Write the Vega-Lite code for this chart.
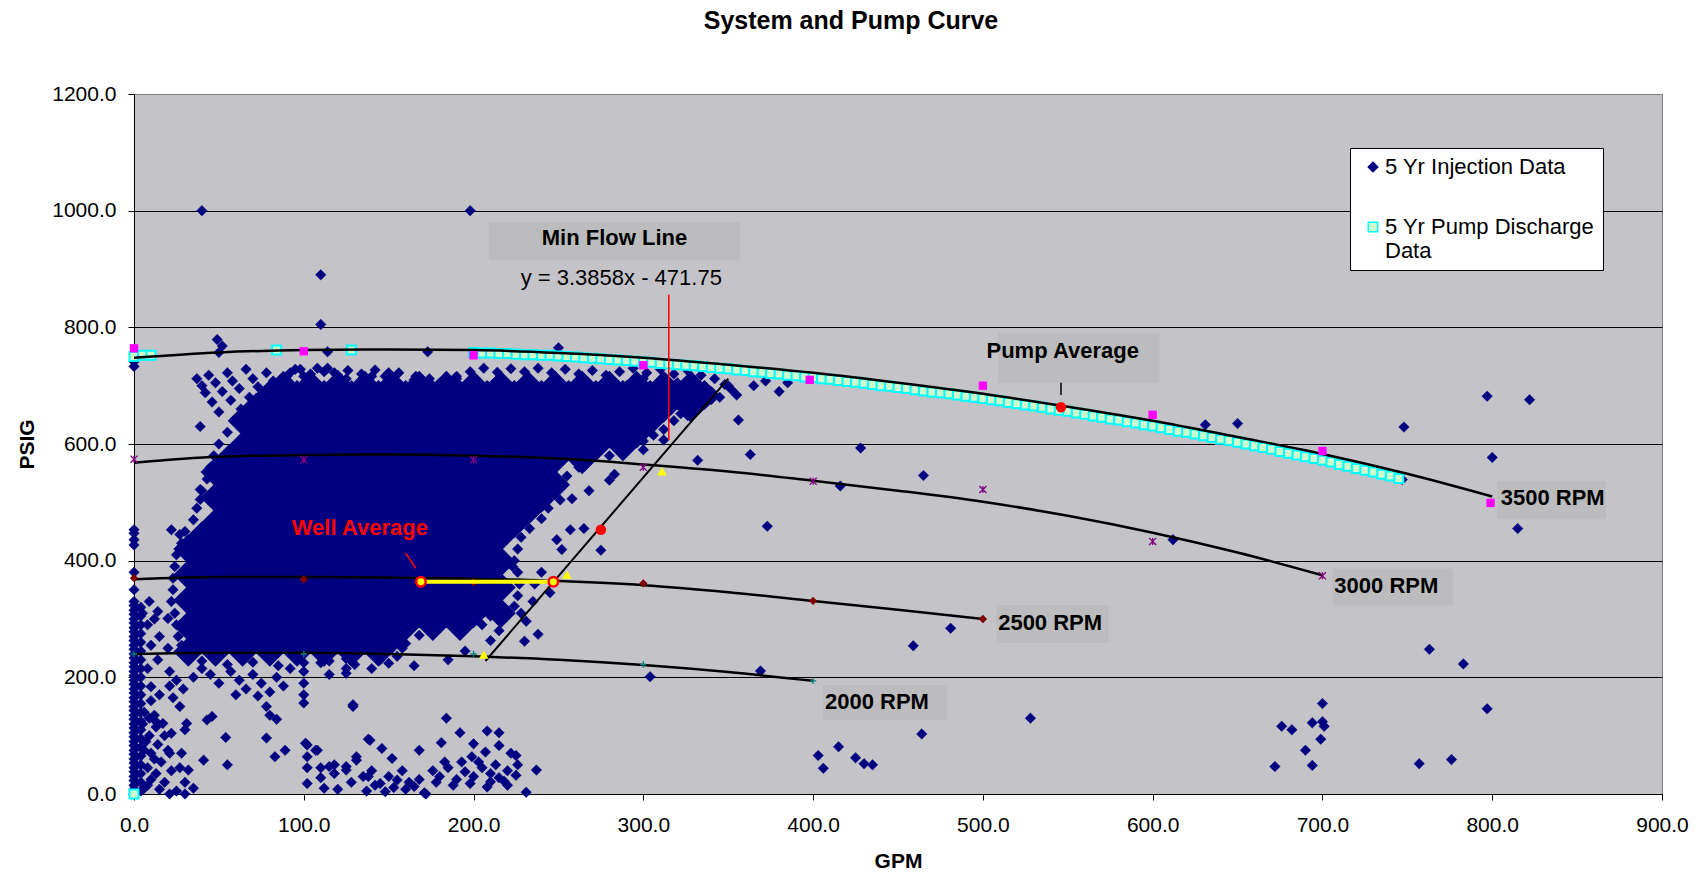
{
"$schema": "https://vega.github.io/schema/vega-lite/v6.json",
"width": 1528, "height": 700,
"autosize": {"type": "none"},
"padding": {"left": 134, "top": 94, "right": 44, "bottom": 78},
"background": "white",
"title": {"text": "System and Pump Curve", "font": "Liberation Sans", "fontSize": 25, "fontWeight": "bold", "color": "black", "anchor": "middle", "frame": "group", "dx": -47, "offset": 49},
"config": {
  "view": {"fill": "#C4C3C8", "stroke": "#808080", "strokeWidth": 1},
  "axis": {"labelFont": "Liberation Sans", "labelFontSize": 21, "labelColor": "black", "tickColor": "black", "tickSize": 6, "domainColor": "black", "titleFont": "Liberation Sans", "titleFontSize": 21, "titleFontWeight": "bold", "titleColor": "black"}
},
"encoding": {
  "x": {"field": "x", "type": "quantitative", "scale": {"domain": [0, 900], "nice": false, "zero": false},
        "axis": {"title": "GPM", "values": [0,100,200,300,400,500,600,700,800,900], "format": ".1f", "grid": false, "labelPadding": 14, "labelFlush": false, "labelOverlap": false, "titlePadding": 15}},
  "y": {"field": "y", "type": "quantitative", "scale": {"domain": [0, 1200], "nice": false, "zero": false},
        "axis": {"title": "PSIG", "values": [0,200,400,600,800,1000,1200], "format": ".1f", "grid": true, "gridColor": {"condition": {"test": "datum.value == 1200", "value": "#808080"}, "value": "black"}, "gridWidth": 1, "labelPadding": 12, "labelOverlap": false, "labelFlush": false, "titlePadding": 14}}
},
"datasets": {
"blob": [
{"x":32,"y":244},{"x":48,"y":244},{"x":64,"y":244},{"x":80,"y":244},{"x":96,"y":244},{"x":112,"y":244},{"x":128,"y":244},{"x":144,"y":244},
{"x":40,"y":266},{"x":56,"y":266},{"x":72,"y":266},{"x":88,"y":266},{"x":104,"y":266},{"x":120,"y":266},{"x":136,"y":266},{"x":152,"y":266},
{"x":32,"y":288},{"x":48,"y":288},{"x":64,"y":288},{"x":80,"y":288},{"x":96,"y":288},{"x":112,"y":288},{"x":128,"y":288},{"x":144,"y":288},{"x":160,"y":288},{"x":176,"y":288},{"x":192,"y":288},
{"x":40,"y":310},{"x":56,"y":310},{"x":72,"y":310},{"x":88,"y":310},{"x":104,"y":310},{"x":120,"y":310},{"x":136,"y":310},{"x":152,"y":310},{"x":168,"y":310},{"x":184,"y":310},{"x":200,"y":310},{"x":216,"y":310},
{"x":32,"y":332},{"x":48,"y":332},{"x":64,"y":332},{"x":80,"y":332},{"x":96,"y":332},{"x":112,"y":332},{"x":128,"y":332},{"x":144,"y":332},{"x":160,"y":332},{"x":176,"y":332},{"x":192,"y":332},{"x":208,"y":332},
{"x":40,"y":354},{"x":56,"y":354},{"x":72,"y":354},{"x":88,"y":354},{"x":104,"y":354},{"x":120,"y":354},{"x":136,"y":354},{"x":152,"y":354},{"x":168,"y":354},{"x":184,"y":354},{"x":200,"y":354},{"x":216,"y":354},
{"x":32,"y":376},{"x":48,"y":376},{"x":64,"y":376},{"x":80,"y":376},{"x":96,"y":376},{"x":112,"y":376},{"x":128,"y":376},{"x":144,"y":376},{"x":160,"y":376},{"x":176,"y":376},{"x":192,"y":376},{"x":208,"y":376},
{"x":40,"y":398},{"x":56,"y":398},{"x":72,"y":398},{"x":88,"y":398},{"x":104,"y":398},{"x":120,"y":398},{"x":136,"y":398},{"x":152,"y":398},{"x":168,"y":398},{"x":184,"y":398},{"x":200,"y":398},{"x":216,"y":398},
{"x":32,"y":420},{"x":48,"y":420},{"x":64,"y":420},{"x":80,"y":420},{"x":96,"y":420},{"x":112,"y":420},{"x":128,"y":420},{"x":144,"y":420},{"x":160,"y":420},{"x":176,"y":420},{"x":192,"y":420},{"x":208,"y":420},
{"x":40,"y":442},{"x":56,"y":442},{"x":72,"y":442},{"x":88,"y":442},{"x":104,"y":442},{"x":120,"y":442},{"x":136,"y":442},{"x":152,"y":442},{"x":168,"y":442},{"x":184,"y":442},{"x":200,"y":442},{"x":216,"y":442},
{"x":48,"y":464},{"x":64,"y":464},{"x":80,"y":464},{"x":96,"y":464},{"x":112,"y":464},{"x":128,"y":464},{"x":144,"y":464},{"x":160,"y":464},{"x":176,"y":464},{"x":192,"y":464},{"x":208,"y":464},{"x":224,"y":464},
{"x":56,"y":486},{"x":72,"y":486},{"x":88,"y":486},{"x":104,"y":486},{"x":120,"y":486},{"x":136,"y":486},{"x":152,"y":486},{"x":168,"y":486},{"x":184,"y":486},{"x":200,"y":486},{"x":216,"y":486},{"x":232,"y":486},
{"x":48,"y":508},{"x":64,"y":508},{"x":80,"y":508},{"x":96,"y":508},{"x":112,"y":508},{"x":128,"y":508},{"x":144,"y":508},{"x":160,"y":508},{"x":176,"y":508},{"x":192,"y":508},{"x":208,"y":508},{"x":224,"y":508},{"x":240,"y":508},
{"x":56,"y":530},{"x":72,"y":530},{"x":88,"y":530},{"x":104,"y":530},{"x":120,"y":530},{"x":136,"y":530},{"x":152,"y":530},{"x":168,"y":530},{"x":184,"y":530},{"x":200,"y":530},{"x":216,"y":530},{"x":232,"y":530},{"x":248,"y":530},
{"x":48,"y":552},{"x":64,"y":552},{"x":80,"y":552},{"x":96,"y":552},{"x":112,"y":552},{"x":128,"y":552},{"x":144,"y":552},{"x":160,"y":552},{"x":176,"y":552},{"x":192,"y":552},{"x":208,"y":552},{"x":224,"y":552},{"x":240,"y":552},
{"x":56,"y":574},{"x":72,"y":574},{"x":88,"y":574},{"x":104,"y":574},{"x":120,"y":574},{"x":136,"y":574},{"x":152,"y":574},{"x":168,"y":574},{"x":184,"y":574},{"x":200,"y":574},{"x":216,"y":574},{"x":232,"y":574},{"x":248,"y":574},{"x":264,"y":574},
{"x":64,"y":596},{"x":80,"y":596},{"x":96,"y":596},{"x":112,"y":596},{"x":128,"y":596},{"x":144,"y":596},{"x":160,"y":596},{"x":176,"y":596},{"x":192,"y":596},{"x":208,"y":596},{"x":224,"y":596},{"x":240,"y":596},{"x":256,"y":596},{"x":272,"y":596},{"x":288,"y":596},
{"x":72,"y":618},{"x":88,"y":618},{"x":104,"y":618},{"x":120,"y":618},{"x":136,"y":618},{"x":152,"y":618},{"x":168,"y":618},{"x":184,"y":618},{"x":200,"y":618},{"x":216,"y":618},{"x":232,"y":618},{"x":248,"y":618},{"x":264,"y":618},{"x":280,"y":618},{"x":296,"y":618},
{"x":64,"y":640},{"x":80,"y":640},{"x":96,"y":640},{"x":112,"y":640},{"x":128,"y":640},{"x":144,"y":640},{"x":160,"y":640},{"x":176,"y":640},{"x":192,"y":640},{"x":208,"y":640},{"x":224,"y":640},{"x":240,"y":640},{"x":256,"y":640},{"x":272,"y":640},{"x":288,"y":640},{"x":304,"y":640},
{"x":72,"y":662},{"x":88,"y":662},{"x":104,"y":662},{"x":120,"y":662},{"x":136,"y":662},{"x":152,"y":662},{"x":168,"y":662},{"x":184,"y":662},{"x":200,"y":662},{"x":216,"y":662},{"x":232,"y":662},{"x":248,"y":662},{"x":264,"y":662},{"x":280,"y":662},{"x":296,"y":662},{"x":312,"y":662},{"x":328,"y":662},
{"x":80,"y":684},{"x":96,"y":684},{"x":112,"y":684},{"x":128,"y":684},{"x":144,"y":684},{"x":160,"y":684},{"x":176,"y":684},{"x":192,"y":684},{"x":208,"y":684},{"x":224,"y":684},{"x":240,"y":684},{"x":256,"y":684},{"x":272,"y":684},{"x":288,"y":684},{"x":304,"y":684},{"x":320,"y":684},{"x":336,"y":684},
{"x":88,"y":700},{"x":104,"y":700},{"x":120,"y":700},{"x":136,"y":700},{"x":152,"y":700},{"x":168,"y":700},{"x":184,"y":700},{"x":200,"y":700},{"x":216,"y":700},{"x":232,"y":700},{"x":248,"y":700},{"x":264,"y":700},{"x":280,"y":700},{"x":296,"y":700},{"x":312,"y":700},{"x":328,"y":700}
],
"injection": [
{"x":40,"y":1000},{"x":198,"y":1000},{"x":110,"y":890},{"x":110,"y":805},{"x":49,"y":779},{"x":52,"y":768},{"x":50,"y":757},{"x":114,"y":758},{"x":173,"y":758},{"x":250,"y":765},{"x":0,"y":741},{"x":0,"y":733},{"x":114,"y":730},
{"x":37,"y":712},{"x":40,"y":700},{"x":44,"y":718},{"x":48,"y":705},{"x":52,"y":690},{"x":55,"y":722},{"x":58,"y":708},{"x":62,"y":695},{"x":66,"y":728},{"x":70,"y":712},{"x":73,"y":698},{"x":78,"y":722},{"x":82,"y":708},{"x":86,"y":692},{"x":90,"y":716},{"x":42,"y":688},{"x":46,"y":672},{"x":57,"y":675},{"x":63,"y":660},{"x":68,"y":680},{"x":75,"y":670},{"x":50,"y":655},{"x":60,"y":642},{"x":72,"y":650},{"x":39,"y":630},{"x":95,"y":728},{"x":100,"y":716},{"x":108,"y":730},{"x":118,"y":722},{"x":125,"y":712},{"x":140,"y":716},{"x":150,"y":722},{"x":165,"y":710},{"x":180,"y":704},{"x":190,"y":712},
{"x":92,"y":722},{"x":98,"y":728},{"x":104,"y":720},{"x":112,"y":724},{"x":120,"y":718},{"x":126,"y":726},{"x":134,"y":720},{"x":142,"y":727},{"x":148,"y":716},{"x":156,"y":722},{"x":166,"y":716},{"x":174,"y":712},{"x":182,"y":708},{"x":190,"y":716},{"x":198,"y":724},{"x":206,"y":730},{"x":214,"y":723},{"x":222,"y":729},{"x":230,"y":724},{"x":238,"y":730},{"x":246,"y":722},{"x":254,"y":728},{"x":262,"y":720},{"x":270,"y":726},{"x":278,"y":718},{"x":286,"y":724},{"x":294,"y":730},{"x":302,"y":722},{"x":310,"y":728},{"x":318,"y":720},{"x":326,"y":726},{"x":334,"y":718},{"x":342,"y":712},{"x":348,"y":702},{"x":352,"y":693},{"x":355,"y":684},
{"x":280,"y":580},{"x":272,"y":586},{"x":300,"y":605},{"x":306,"y":615},{"x":312,"y":625},{"x":318,"y":640},{"x":322,"y":652},{"x":332,"y":665},{"x":340,"y":676},{"x":262,"y":560},{"x":255,"y":545},{"x":252,"y":530},{"x":246,"y":515},{"x":244,"y":490},{"x":240,"y":472},{"x":233,"y":455},{"x":228,"y":440},{"x":226,"y":420},{"x":224,"y":400},{"x":226,"y":380},{"x":227,"y":360},{"x":226,"y":340},{"x":224,"y":322},{"x":210,"y":305},{"x":200,"y":296},{"x":175,"y":283},{"x":168,"y":272},{"x":160,"y":258},{"x":158,"y":250},
{"x":60,"y":640},{"x":55,"y":620},{"x":50,"y":600},{"x":47,"y":580},{"x":45,"y":560},{"x":43,"y":540},{"x":40,"y":520},{"x":37,"y":490},{"x":35,"y":470},{"x":30,"y":450},{"x":28,"y":430},{"x":25,"y":410},{"x":24,"y":390},{"x":23,"y":370},{"x":23,"y":350},{"x":22,"y":330},{"x":24,"y":310},{"x":25,"y":290},{"x":26,"y":270},{"x":28,"y":255},
{"x":40,"y":228},{"x":55,"y":222},{"x":70,"y":226},{"x":85,"y":220},{"x":100,"y":225},{"x":115,"y":228},{"x":130,"y":222},{"x":145,"y":230},{"x":155,"y":236},
{"x":0,"y":0},{"x":0,"y":8},{"x":0,"y":15},{"x":0,"y":23},{"x":0,"y":30},{"x":0,"y":38},{"x":0,"y":45},{"x":0,"y":53},{"x":0,"y":60},{"x":0,"y":68},{"x":0,"y":75},{"x":0,"y":83},{"x":0,"y":90},{"x":0,"y":98},{"x":0,"y":105},{"x":0,"y":113},{"x":0,"y":120},{"x":0,"y":128},{"x":0,"y":135},{"x":0,"y":143},{"x":0,"y":150},{"x":0,"y":158},{"x":0,"y":165},{"x":0,"y":173},{"x":0,"y":180},{"x":0,"y":188},{"x":0,"y":195},{"x":0,"y":203},{"x":0,"y":210},{"x":0,"y":218},{"x":0,"y":225},{"x":0,"y":233},{"x":0,"y":240},{"x":0,"y":248},{"x":0,"y":255},{"x":0,"y":263},{"x":0,"y":270},{"x":0,"y":278},{"x":0,"y":285},{"x":0,"y":293},{"x":0,"y":300},{"x":0,"y":308},{"x":0,"y":315},{"x":0,"y":323},{"x":0,"y":330},{"x":0,"y":350},{"x":0,"y":380},{"x":0,"y":427},{"x":0,"y":447},{"x":0,"y":453},{"x":0,"y":436},
{"x":4,"y":5},{"x":4,"y":20},{"x":4,"y":35},{"x":4,"y":50},{"x":4,"y":65},{"x":4,"y":80},{"x":4,"y":95},{"x":4,"y":110},{"x":4,"y":125},{"x":4,"y":140},{"x":4,"y":155},{"x":4,"y":170},{"x":4,"y":185},{"x":4,"y":200},{"x":4,"y":215},{"x":4,"y":230},{"x":4,"y":245},{"x":4,"y":260},{"x":4,"y":275},{"x":4,"y":290},{"x":4,"y":305},{"x":4,"y":320},
{"x":6,"y":10},{"x":10,"y":25},{"x":15,"y":8},{"x":8,"y":45},{"x":12,"y":60},{"x":6,"y":75},{"x":14,"y":85},{"x":9,"y":100},{"x":5,"y":120},{"x":12,"y":135},{"x":18,"y":20},{"x":22,"y":40},{"x":16,"y":55},{"x":20,"y":75},{"x":25,"y":5},{"x":30,"y":20},{"x":27,"y":45},{"x":35,"y":10},{"x":13,"y":115},{"x":18,"y":100},{"x":8,"y":15},{"x":10,"y":70},{"x":7,"y":90},{"x":9,"y":130},
{"x":9,"y":330},{"x":14,"y":313},{"x":20,"y":301},{"x":10,"y":184},{"x":17,"y":121},{"x":22,"y":104},{"x":28,"y":70},{"x":32,"y":41},{"x":21,"y":70},{"x":13,"y":35},{"x":21,"y":0},{"x":30,"y":0},{"x":41,"y":58},{"x":55,"y":50},{"x":54,"y":97},{"x":43,"y":127},{"x":46,"y":133},{"x":31,"y":121},{"x":30,"y":110},{"x":13,"y":124},{"x":22,"y":453},{"x":27,"y":445},{"x":39,"y":522},{"x":39,"y":505},{"x":8,"y":290},{"x":12,"y":300},{"x":5,"y":310},{"x":15,"y":270},{"x":10,"y":255},{"x":20,"y":250},{"x":8,"y":215},{"x":14,"y":230},{"x":10,"y":160},{"x":6,"y":140},{"x":15,"y":170},
{"x":21,"y":210},{"x":25,"y":195},{"x":29,"y":180},{"x":23,"y":165},{"x":27,"y":150},{"x":21,"y":185},{"x":57,"y":210},{"x":62,"y":195},{"x":66,"y":180},{"x":70,"y":205},{"x":75,"y":190},{"x":80,"y":175},{"x":84,"y":200},{"x":88,"y":185},{"x":60,"y":170},{"x":73,"y":168},{"x":78,"y":150},{"x":80,"y":135},{"x":84,"y":128},{"x":100,"y":210},{"x":100,"y":190},{"x":100,"y":170},{"x":100,"y":156},{"x":125,"y":232},{"x":125,"y":215},{"x":125,"y":207},{"x":129,"y":153},{"x":150,"y":224},{"x":140,"y":215},{"x":165,"y":220},{"x":185,"y":230},{"x":195,"y":245},{"x":45,"y":205},{"x":50,"y":190},{"x":35,"y":200},{"x":40,"y":215},{"x":110,"y":225},{"x":115,"y":205},{"x":92,"y":215},
{"x":78,"y":96},{"x":83,"y":64},{"x":89,"y":75},{"x":102,"y":84},{"x":102,"y":45},{"x":107,"y":75},{"x":110,"y":45},{"x":118,"y":50},{"x":125,"y":41},{"x":129,"y":150},{"x":131,"y":64},{"x":139,"y":92},{"x":146,"y":78},{"x":152,"y":61},{"x":168,"y":75},{"x":172,"y":0},{"x":101,"y":87},{"x":108,"y":75},{"x":102,"y":64},{"x":138,"y":94},
{"x":102,"y":18},{"x":110,"y":28},{"x":115,"y":47},{"x":120,"y":8},{"x":125,"y":47},{"x":128,"y":20},{"x":131,"y":58},{"x":135,"y":30},{"x":137,"y":5},{"x":142,"y":15},{"x":145,"y":18},{"x":150,"y":30},{"x":153,"y":11},{"x":155,"y":24},{"x":160,"y":8},{"x":165,"y":13},{"x":168,"y":25},{"x":171,"y":2},{"x":112,"y":10},{"x":118,"y":35},{"x":140,"y":40},{"x":148,"y":4},{"x":158,"y":40},{"x":162,"y":20},{"x":138,"y":30},
{"x":184,"y":130},{"x":192,"y":105},{"x":208,"y":108},{"x":215,"y":105},{"x":181,"y":88},{"x":200,"y":86},{"x":215,"y":83},{"x":207,"y":72},{"x":199,"y":64},{"x":222,"y":70},{"x":225,"y":66},{"x":237,"y":41},{"x":210,"y":21},{"x":231,"y":3},{"x":176,"y":40},{"x":180,"y":30},{"x":185,"y":45},{"x":190,"y":25},{"x":195,"y":38},{"x":200,"y":30},{"x":205,"y":45},{"x":210,"y":35},{"x":215,"y":28},{"x":220,"y":40},{"x":225,"y":32},{"x":178,"y":20},{"x":188,"y":15},{"x":198,"y":18},{"x":208,"y":12},{"x":218,"y":22},{"x":226,"y":50},{"x":183,"y":55},{"x":193,"y":55},{"x":203,"y":55},{"x":213,"y":50},{"x":220,"y":15},
{"x":231,"y":296},{"x":238,"y":274},{"x":210,"y":263},{"x":304,"y":201},{"x":369,"y":211},{"x":275,"y":418},{"x":252,"y":419},{"x":249,"y":436},{"x":257,"y":453},{"x":265,"y":455},{"x":251,"y":504},{"x":258,"y":506},{"x":280,"y":538},{"x":283,"y":548},{"x":223,"y":390},{"x":332,"y":572},{"x":363,"y":582},{"x":373,"y":459},{"x":416,"y":528},{"x":428,"y":593},{"x":326,"y":649},{"x":312,"y":607},{"x":356,"y":641},{"x":365,"y":700},{"x":372,"y":708},{"x":380,"y":690},{"x":385,"y":705},{"x":340,"y":690},{"x":350,"y":700},{"x":345,"y":680},{"x":290,"y":600},{"x":300,"y":590},{"x":270,"y":590},{"x":260,"y":570},{"x":268,"y":520},{"x":240,"y":380},{"x":245,"y":345},{"x":235,"y":330},{"x":228,"y":310},{"x":236,"y":360},{"x":290,"y":700},{"x":300,"y":712},{"x":320,"y":705},{"x":330,"y":690},{"x":230,"y":262},{"x":215,"y":280},{"x":205,"y":290},{"x":196,"y":300},{"x":202,"y":318},
{"x":403,"y":66},{"x":415,"y":81},{"x":406,"y":44},{"x":425,"y":62},{"x":430,"y":52},{"x":435,"y":50},{"x":459,"y":254},{"x":481,"y":284},{"x":464,"y":103},{"x":528,"y":130},{"x":465,"y":546},{"x":612,"y":436},{"x":631,"y":633},{"x":650,"y":635},{"x":748,"y":629},{"x":747,"y":539},{"x":797,"y":682},{"x":822,"y":676},{"x":800,"y":577},{"x":815,"y":455},{"x":763,"y":248},{"x":783,"y":223},{"x":700,"y":155},{"x":797,"y":146},{"x":676,"y":116},{"x":682,"y":110},{"x":694,"y":122},{"x":700,"y":124},{"x":701,"y":116},{"x":699,"y":94},{"x":690,"y":75},{"x":672,"y":47},{"x":694,"y":49},{"x":757,"y":52},{"x":776,"y":59}
],
"pump": [
{"x":0,"y":0},{"x":0,"y":750},{"x":5,"y":752},{"x":10,"y":752},{"x":84,"y":761},{"x":128,"y":761},
{"x":200,"y":757},{"x":205,"y":756},{"x":210,"y":756},{"x":215,"y":755},{"x":220,"y":755},{"x":225,"y":754},{"x":230,"y":753},{"x":235,"y":753},{"x":240,"y":752},{"x":245,"y":752},{"x":250,"y":751},
{"x":255,"y":750},{"x":260,"y":749},{"x":265,"y":748},{"x":270,"y":747},{"x":275,"y":746},{"x":280,"y":745},{"x":285,"y":744},{"x":290,"y":743},{"x":295,"y":742},{"x":300,"y":741},
{"x":305,"y":740},{"x":310,"y":738},{"x":315,"y":737},{"x":320,"y":736},{"x":325,"y":735},{"x":330,"y":734},{"x":335,"y":733},{"x":340,"y":731},{"x":345,"y":730},{"x":350,"y":729},
{"x":355,"y":727},{"x":360,"y":726},{"x":365,"y":724},{"x":370,"y":723},{"x":375,"y":721},{"x":380,"y":720},{"x":385,"y":718},{"x":390,"y":717},{"x":395,"y":715},{"x":400,"y":714},
{"x":405,"y":712},{"x":410,"y":711},{"x":415,"y":709},{"x":420,"y":707},{"x":425,"y":706},{"x":430,"y":704},{"x":435,"y":702},{"x":440,"y":700},{"x":445,"y":699},{"x":450,"y":697},
{"x":455,"y":695},{"x":460,"y":693},{"x":465,"y":691},{"x":470,"y":689},{"x":475,"y":688},{"x":480,"y":686},{"x":485,"y":684},{"x":490,"y":682},{"x":495,"y":680},{"x":500,"y":678},
{"x":505,"y":676},{"x":510,"y":674},{"x":515,"y":671},{"x":520,"y":669},{"x":525,"y":667},{"x":530,"y":665},{"x":535,"y":663},{"x":540,"y":660},{"x":545,"y":658},{"x":550,"y":656},
{"x":555,"y":653},{"x":560,"y":651},{"x":565,"y":648},{"x":570,"y":646},{"x":575,"y":643},{"x":580,"y":641},{"x":585,"y":638},{"x":590,"y":636},{"x":595,"y":633},{"x":600,"y":631},
{"x":605,"y":628},{"x":610,"y":625},{"x":615,"y":622},{"x":620,"y":620},{"x":625,"y":617},{"x":630,"y":614},{"x":635,"y":611},{"x":640,"y":608},{"x":645,"y":606},{"x":650,"y":603},
{"x":655,"y":600},{"x":660,"y":597},{"x":665,"y":594},{"x":670,"y":591},{"x":675,"y":587},{"x":680,"y":584},{"x":685,"y":581},{"x":690,"y":578},{"x":695,"y":575},{"x":700,"y":572},
{"x":705,"y":569},{"x":710,"y":565},{"x":715,"y":562},{"x":720,"y":558},{"x":725,"y":555},{"x":730,"y":552},{"x":735,"y":548},{"x":740,"y":545},{"x":745,"y":541}
],
"curves": [
{"c":"3500","x":0,"y":748},{"c":"3500","x":50,"y":757},{"c":"3500","x":100,"y":761},{"c":"3500","x":150,"y":762},{"c":"3500","x":200,"y":761},{"c":"3500","x":250,"y":756},{"c":"3500","x":300,"y":748},{"c":"3500","x":350,"y":736},{"c":"3500","x":400,"y":722},{"c":"3500","x":450,"y":705},{"c":"3500","x":500,"y":686},{"c":"3500","x":550,"y":664},{"c":"3500","x":600,"y":640},{"c":"3500","x":650,"y":612},{"c":"3500","x":700,"y":583},{"c":"3500","x":750,"y":549},{"c":"3500","x":800,"y":510},
{"c":"3000","x":0,"y":568},{"c":"3000","x":50,"y":578},{"c":"3000","x":100,"y":581},{"c":"3000","x":150,"y":582},{"c":"3000","x":200,"y":580},{"c":"3000","x":250,"y":575},{"c":"3000","x":300,"y":565},{"c":"3000","x":350,"y":553},{"c":"3000","x":400,"y":537},{"c":"3000","x":450,"y":520},{"c":"3000","x":500,"y":501},{"c":"3000","x":550,"y":477},{"c":"3000","x":600,"y":448},{"c":"3000","x":650,"y":414},{"c":"3000","x":700,"y":375},
{"c":"2500","x":0,"y":368},{"c":"2500","x":50,"y":372},{"c":"2500","x":100,"y":372},{"c":"2500","x":150,"y":371},{"c":"2500","x":200,"y":369},{"c":"2500","x":250,"y":365},{"c":"2500","x":300,"y":358},{"c":"2500","x":350,"y":346},{"c":"2500","x":400,"y":331},{"c":"2500","x":450,"y":316},{"c":"2500","x":500,"y":300},
{"c":"2000","x":0,"y":240},{"c":"2000","x":50,"y":242},{"c":"2000","x":100,"y":242},{"c":"2000","x":150,"y":240},{"c":"2000","x":200,"y":236},{"c":"2000","x":250,"y":230},{"c":"2000","x":300,"y":221},{"c":"2000","x":350,"y":209},{"c":"2000","x":400,"y":194}
],
"minflow": [{"x":207,"y":228},{"x":350,"y":712}],
"magenta": [{"x":0,"y":764},{"x":100,"y":759},{"x":200,"y":752},{"x":300,"y":735},{"x":398,"y":710},{"x":500,"y":700},{"x":600,"y":650},{"x":700,"y":588},{"x":799,"y":499}],
"aster": [{"x":0,"y":574},{"x":100,"y":573},{"x":200,"y":573},{"x":300,"y":560},{"x":400,"y":536},{"x":500,"y":522},{"x":600,"y":433},{"x":700,"y":374}],
"darkred": [{"x":0,"y":370},{"x":100,"y":368},{"x":200,"y":363},{"x":300,"y":361},{"x":400,"y":331},{"x":500,"y":300}],
"teal": [{"x":0,"y":240},{"x":100,"y":240},{"x":200,"y":240},{"x":300,"y":222},{"x":400,"y":194}],
"yline": [{"x":169,"y":364},{"x":247,"y":364}],
"ytri": [{"x":206,"y":239},{"x":255,"y":376},{"x":311,"y":553}],
"reddot": [{"x":275,"y":453},{"x":546,"y":663}],
"redcall": [{"id":"eq","x":315,"y":607},{"id":"eq","x":315,"y":856},{"id":"well","x":160,"y":413},{"id":"well","x":166,"y":387}],
"blackcall": [{"x":546,"y":684},{"x":546,"y":733}],
"boxes": [{"x":209,"x2":357,"y":915,"y2":980},{"x":509,"x2":604,"y":705,"y2":790},{"x":803,"x2":867,"y":471,"y2":536},{"x":706,"x2":777,"y":323,"y2":386},{"x":508,"x2":574,"y":259,"y2":324},{"x":406,"x2":479,"y":127,"y2":187}],
"rpmlabels": [{"t":"3500 RPM","x":805,"y":507},{"t":"3000 RPM","x":707,"y":356},{"t":"2500 RPM","x":509,"y":293},{"t":"2000 RPM","x":407,"y":158}],
"clabels": [{"t":"Min Flow Line","x":283,"y":953},{"t":"Pump Average","x":547,"y":760}],
"eqlabel": [{"t":"y = 3.3858x - 471.75","x":287,"y":884}],
"well": [{"t":"Well Average","x":133,"y":456}]
},
"layer": [
{"data": {"name": "blob"}, "mark": {"type": "point", "shape": "diamond", "filled": true, "size": 900, "color": "#000080", "opacity": 1, "strokeWidth": 0}},
{"data": {"name": "injection"}, "mark": {"type": "point", "filled": true, "size": 110, "opacity": 1, "strokeWidth": 0.5},
 "encoding": {
  "shape": {"datum": "5 Yr Injection Data", "type": "nominal", "scale": {"domain": ["5 Yr Injection Data", "5 Yr Pump Discharge Data"], "range": ["diamond", "square"]},
            "legend": {"title": null, "orient": "none", "legendX": 1216, "legendY": 54, "fillColor": "white", "strokeColor": "black", "padding": 8, "labelFont": "Liberation Sans", "labelFontSize": 22, "labelColor": "black", "labelLimit": 400, "symbolSize": 90, "symbolStrokeWidth": 1.5, "labelOffset": 1, "symbolOffset": 4, "rowPadding": 38, "labelExpr": "datum.label == '5 Yr Pump Discharge Data' ? ['5 Yr Pump Discharge', 'Data'] : datum.label"}},
  "fill": {"datum": "5 Yr Injection Data", "type": "nominal", "scale": {"domain": ["5 Yr Injection Data", "5 Yr Pump Discharge Data"], "range": ["#000080", "#CCFFCC"]},
            "legend": {"title": null, "orient": "none", "legendX": 1216, "legendY": 54, "fillColor": "white", "strokeColor": "black", "padding": 8, "labelFont": "Liberation Sans", "labelFontSize": 22, "labelColor": "black", "labelLimit": 400, "symbolSize": 90, "symbolStrokeWidth": 1.5, "labelOffset": 1, "symbolOffset": 4, "rowPadding": 38, "labelExpr": "datum.label == '5 Yr Pump Discharge Data' ? ['5 Yr Pump Discharge', 'Data'] : datum.label"}},
  "stroke": {"datum": "5 Yr Injection Data", "type": "nominal", "scale": {"domain": ["5 Yr Injection Data", "5 Yr Pump Discharge Data"], "range": ["#000080", "#00FFFF"]},
            "legend": {"title": null, "orient": "none", "legendX": 1216, "legendY": 54, "fillColor": "white", "strokeColor": "black", "padding": 8, "labelFont": "Liberation Sans", "labelFontSize": 22, "labelColor": "black", "labelLimit": 400, "symbolSize": 90, "symbolStrokeWidth": 1.5, "labelOffset": 1, "symbolOffset": 4, "rowPadding": 38, "labelExpr": "datum.label == '5 Yr Pump Discharge Data' ? ['5 Yr Pump Discharge', 'Data'] : datum.label"}}
 }},
{"data": {"name": "pump"}, "mark": {"type": "point", "filled": true, "size": 81, "opacity": 1, "strokeWidth": 2},
 "encoding": {
  "shape": {"datum": "5 Yr Pump Discharge Data", "type": "nominal"},
  "fill": {"datum": "5 Yr Pump Discharge Data", "type": "nominal"},
  "stroke": {"datum": "5 Yr Pump Discharge Data", "type": "nominal"}
 }},
{"data": {"name": "curves"}, "mark": {"type": "line", "color": "black", "strokeWidth": 2.5, "interpolate": "monotone"}, "encoding": {"detail": {"field": "c"}}},
{"data": {"name": "minflow"}, "mark": {"type": "line", "color": "black", "strokeWidth": 2}, "encoding": {}},
{"data": {"name": "magenta"}, "mark": {"type": "point", "shape": "square", "filled": true, "size": 70, "color": "#FF00FF", "opacity": 1}},
{"data": {"name": "aster"}, "mark": {"type": "point", "shape": "M-1,-1L1,1M-1,1L1,-1M0,-1L0,1", "filled": false, "size": 50, "stroke": "#800080", "strokeWidth": 1.3, "opacity": 1}},
{"data": {"name": "darkred"}, "mark": {"type": "point", "shape": "diamond", "filled": true, "size": 70, "color": "#800000", "opacity": 1}},
{"data": {"name": "teal"}, "mark": {"type": "point", "shape": "M-1,0L1,0M0,-1L0,1", "filled": false, "size": 40, "stroke": "#008080", "strokeWidth": 1.3, "opacity": 1}},
{"data": {"name": "yline"}, "mark": {"type": "line", "color": "#FFFF00", "strokeWidth": 4}, "encoding": {}},
{"data": {"name": "yline"}, "mark": {"type": "point", "shape": "circle", "filled": true, "size": 90, "fill": "#FFFF00", "stroke": "#FF0000", "strokeWidth": 2.5, "opacity": 1}},
{"data": {"name": "ytri"}, "mark": {"type": "point", "shape": "triangle-up", "filled": true, "size": 90, "color": "#FFFF00", "opacity": 1}},
{"data": {"name": "reddot"}, "mark": {"type": "point", "shape": "circle", "filled": true, "size": 110, "color": "#FF0000", "opacity": 1}},
{"data": {"name": "redcall"}, "mark": {"type": "line", "color": "#FF0000", "strokeWidth": 1.5}, "encoding": {"detail": {"field": "id"}}},
{"data": {"name": "blackcall"}, "mark": {"type": "line", "color": "black", "strokeWidth": 1.5}, "encoding": {}},
{"data": {"name": "boxes"}, "mark": {"type": "rect", "color": "#BCBCBE"}, "encoding": {"x2": {"field": "x2"}, "y2": {"field": "y2"}}},
{"data": {"name": "rpmlabels"}, "mark": {"type": "text", "align": "left", "baseline": "middle", "font": "Liberation Sans Narrow, Liberation Sans", "fontSize": 22, "fontWeight": "bold", "color": "black"}, "encoding": {"text": {"field": "t"}}},
{"data": {"name": "clabels"}, "mark": {"type": "text", "align": "center", "baseline": "middle", "font": "Liberation Sans Narrow, Liberation Sans", "fontSize": 22, "fontWeight": "bold", "color": "black"}, "encoding": {"text": {"field": "t"}}},
{"data": {"name": "eqlabel"}, "mark": {"type": "text", "align": "center", "baseline": "middle", "font": "Liberation Sans", "fontSize": 22, "color": "black"}, "encoding": {"text": {"field": "t"}}},
{"data": {"name": "well"}, "mark": {"type": "text", "align": "center", "baseline": "middle", "font": "Liberation Sans Narrow, Liberation Sans", "fontSize": 22, "fontWeight": "bold", "color": "#FF0000"}, "encoding": {"text": {"field": "t"}}}
]
}
